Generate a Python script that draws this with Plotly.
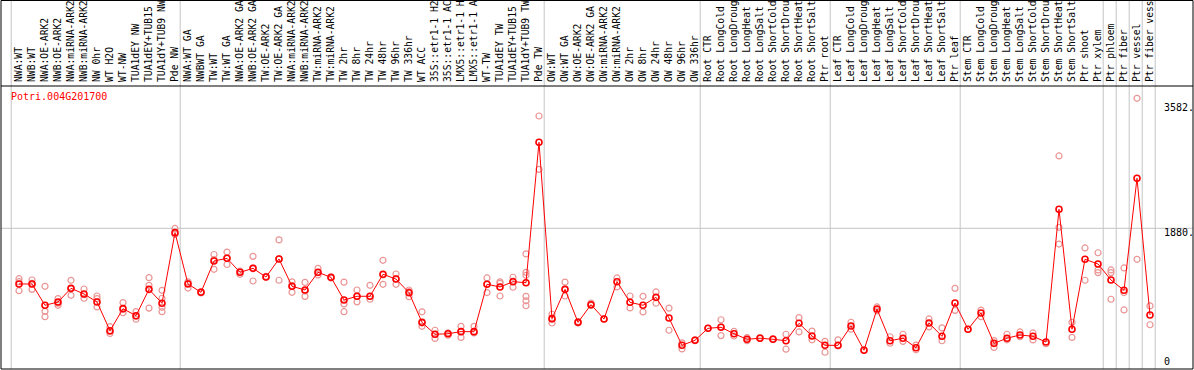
import plotly.graph_objects as go

gene_id = "Potri.004G201700"

categories = [
    "NWA:WT", "NWB:WT", "NWA:OE-ARK2", "NWB:OE-ARK2", "NWA:miRNA-ARK2", "NWB:miRNA-ARK2",
    "NW 0hr", "WT H2O", "WT-NW", "TUA1dEY NW", "TUA1dEY+TUB15 NW", "TUA1dY+TUB9 NW", "Pde NW",
    "NWA:WT GA", "NWBWT GA", "TW:WT", "TW:WT GA", "NWA:OE-ARK2 GA", "NWB:OE-ARK2 GA",
    "TW:OE-ARK2", "TW:OE-ARK2 GA", "NWA:miRNA-ARK2 GA", "NWB:miRNA-ARK2 GA", "TW:miRNA-ARK2",
    "TW:miRNA-ARK2", "TW 2hr", "TW 8hr", "TW 24hr", "TW 48hr", "TW 96hr", "TW 336hr", "WT ACC",
    "35S::etr1-1 H2O", "35S::etr1-1 ACC", "LMX5::etr1-1 H2O", "LMX5::etr1-1 ACC", "WT-TW",
    "TUA1dEY TW", "TUA1dEY+TUB15 TW", "TUA1dY+TUB9 TW", "Pde TW",
    "OW:WT", "OW:WT GA", "OW:OE-ARK2", "OW:OE-ARK2 GA", "OW:miRNA-ARK2", "OW:miRNA-ARK2",
    "OW 2hr", "OW 8hr", "OW 24hr", "OW 48hr", "OW 96hr", "OW 336hr",
    "Root CTR", "Root LongCold", "Root LongDrought", "Root LongHeat", "Root LongSalt",
    "Root ShortCold", "Root ShortDrought", "Root ShortHeat", "Root ShortSalt", "Ptr root",
    "Leaf CTR", "Leaf LongCold", "Leaf LongDrought", "Leaf LongHeat", "Leaf LongSalt",
    "Leaf ShortCold", "Leaf ShortDrought", "Leaf ShortHeat", "Leaf ShortSalt", "Ptr leaf",
    "Stem CTR", "Stem LongCold", "Stem LongDrought", "Stem LongHeat", "Stem LongSalt",
    "Stem ShortCold", "Stem ShortDrought", "Stem ShortHeat", "Stem ShortSalt", "Ptr shoot",
    "Ptr xylem", "Ptr phloem", "Ptr fiber", "Ptr vessel", "Ptr fiber vessel",
]

means = [
    1151, 1151, 872, 915, 1094, 1020, 915, 539, 828, 736, 1081, 898, 1823,
    1151, 1042, 1452, 1487, 1304, 1356, 1242, 1478, 1121, 1072, 1304, 1238, 941, 990, 990,
    1278, 1216, 1037, 649, 492, 500, 527, 527, 1147, 1112, 1181, 1168, 3006,
    697, 1081, 649, 880, 693, 1181, 911, 872, 977, 706, 348, 414,
    571, 584, 500, 427, 441, 427, 408, 636, 470, 348,
    348, 601, 283, 823, 408, 441, 317, 640, 466, 902,
    558, 771, 374, 441, 483, 466, 391, 2129, 558, 1474, 1413,
    1203, 1068, 2535, 745,
]

replicates = [
    [1220, 1181, 1063], [1203, 1081, 1160], [1121, 793, 723], [960, 872, 900],
    [1199, 1003, 1090], [1085, 964, 1010], [994, 850, 960], [592, 503, 530],
    [907, 776, 820], [789, 689, 730], [1234, 1133, 835], [1068, 964, 846, 788],
    [1878, 1800], [1178, 1098, 1160], [1050, 1035], [1537, 1343, 1470],
    [1569, 1406, 1490], [1278, 1320], [1513, 1190, 1360], [1242, 1250],
    [1728, 1200, 1480], [1178, 1042, 1130], [1172, 989, 1060], [1356, 1270, 1300],
    [1240, 1230], [1175, 890, 788], [1072, 917, 990], [1134, 951, 990],
    [1461, 1147, 1270], [1282, 1147, 1220], [1072, 985, 1050], [787, 597, 640],
    [545, 438, 490], [480, 510], [597, 452, 530], [597, 520, 510],
    [1230, 1039, 1150], [1178, 994, 1160], [1239, 1108, 1190],
    [1545, 1304, 1265, 989, 931, 866], [3350, 2652],
    [755, 640, 690], [1175, 994, 1080], [660, 640], [900, 870], [693], [1230, 1113],
    [994, 838], [990, 785], [1047, 899, 970], [835, 545], [380, 301], [420, 410],
    [571], [683, 475, 590], [530, 470], [450, 410], [441, 450], [427, 435],
    [493, 297], [710, 523], [535, 420], [400, 257],
    [419, 340], [650, 560], [290], [850, 800], [460, 375], [493, 400], [350, 290],
    [693, 590], [576, 408], [1094, 806],
    [558], [810, 723], [410, 321], [493, 420], [523, 460], [510, 419], [370],
    [2827, 1893, 1674], [650, 452], [1623, 1200], [1560, 1335, 1300],
    [1335, 1300, 951], [1361, 1039, 811], [3582, 1474], [864, 617],
]

group_starts = [0, 13, 41, 53, 63, 73, 84, 85, 86, 87, 88]
grid_value = 1880
ytick_vals = [0, 1880, 3582]
ytick_text = ["0", "1880.", "3582."]

# ---- layout geometry (pixels) ----
W, H = 1194, 370
ML, MR, MT, MB = 1, 1, 86, 1
PW, PH = W - ML - MR, H - MT - MB

def paper_x(px):
    return (px - ML) / PW

def paper_y(py):
    return (H - MB - py) / PH

x_idx = list(range(len(categories)))
rx, ry = [], []
for i, reps in enumerate(replicates):
    for v in reps:
        rx.append(i)
        ry.append(v)

fig = go.Figure()
fig.add_trace(go.Scatter(
    x=rx, y=ry, mode="markers",
    marker=dict(symbol="circle-open", size=6, color="#ea9494",
                line=dict(width=1.2, color="#ea9494")),
    hoverinfo="skip", showlegend=False,
))
fig.add_trace(go.Scatter(
    x=x_idx, y=means, mode="lines+markers",
    line=dict(color="#ff0000", width=1),
    marker=dict(symbol="circle-open", size=6, color="#ff0000",
                line=dict(width=1.6, color="#ff0000")),
    showlegend=False,
))

shapes = []
top_paper = paper_y(0.5)
for k in group_starts:
    shapes.append(dict(type="line", xref="x", yref="paper", x0=k - 0.6, x1=k - 0.6,
                       y0=0, y1=top_paper, line=dict(color="#c4c4c4", width=1), layer="below"))
shapes.append(dict(type="line", xref="paper", yref="y", x0=0, x1=1, y0=grid_value, y1=grid_value,
                   line=dict(color="#c4c4c4", width=1), layer="below"))
shapes.append(dict(type="rect", xref="paper", yref="paper", x0=0, x1=1, y0=0, y1=top_paper,
                   line=dict(color="black", width=1), layer="above"))
shapes.append(dict(type="line", xref="paper", yref="paper", x0=0, x1=1, y0=1, y1=1,
                   line=dict(color="black", width=1), layer="above"))

label_px_y = [361, 232.7, 107]
annotations = [dict(text=gene_id, xref="paper", yref="paper", x=paper_x(9), y=paper_y(96.7),
                    xanchor="left", yanchor="middle", showarrow=False,
                    font=dict(family="DejaVu Sans Mono", size=10, color="#ff0000"))]
for txt, py in zip(ytick_text, label_px_y):
    annotations.append(dict(text=txt, xref="paper", yref="paper", x=paper_x(1162), y=paper_y(py),
                            xanchor="left", yanchor="middle", showarrow=False,
                            font=dict(family="DejaVu Sans Mono", size=10, color="black")))

x_lo = (ML - 19) / 13
x_hi = (W - MR - 19) / 13
y_lo = (371.9 - (H - MB)) * 13.092
y_hi = (371.9 - MT) * 13.092

fig.update_layout(
    width=W, height=H,
    margin=dict(l=ML, r=MR, t=MT, b=MB, pad=0),
    paper_bgcolor="white", plot_bgcolor="white",
    shapes=shapes, annotations=annotations,
    xaxis=dict(range=[x_lo, x_hi], side="top", tickmode="array", tickvals=x_idx,
               ticktext=[c[:14] for c in categories], tickangle=-90, ticks="",
               ticklabelstandoff=3,
               tickfont=dict(family="DejaVu Sans Mono", size=9.7, color="black"),
               showgrid=False, zeroline=False, showline=False, automargin=False,
               fixedrange=True),
    yaxis=dict(range=[y_lo, y_hi], showticklabels=False, ticks="", showgrid=False,
               zeroline=False, showline=False, automargin=False, fixedrange=True),
)

fig.write_html(
    "out.html",
    config={"displayModeBar": False},
    post_script="document.body.style.margin='0';document.body.style.overflow='hidden';",
)
